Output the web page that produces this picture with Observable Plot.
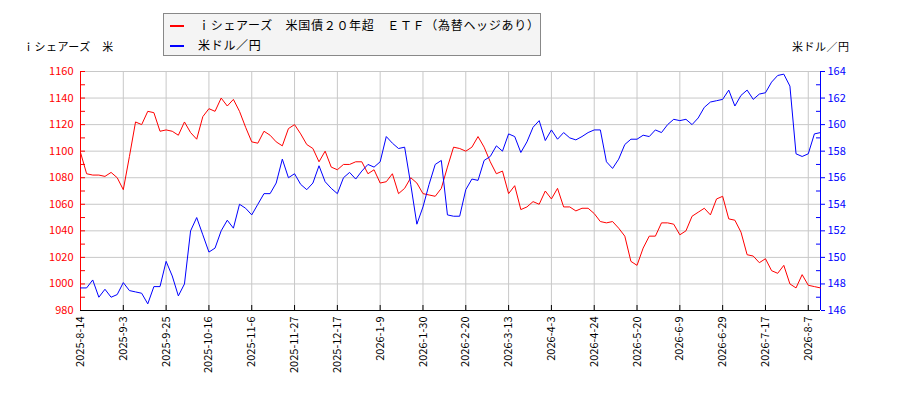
<!DOCTYPE html>
<html>
<head>
<meta charset="utf-8">
<script src="https://cdn.jsdelivr.net/npm/d3@7"></script>
<script src="https://cdn.jsdelivr.net/npm/@observablehq/plot@0.6"></script>
<style>
  body { margin: 0; background: #fff; font-family: "Noto Sans CJK JP", "Noto Sans", sans-serif; }
  #wrap { position: relative; width: 900px; height: 400px; }
  #chart { position: absolute; left: 0; top: 0; }
  .legend { position: absolute; left: 163px; top: 13px; width: 378px; height: 43px; background: #f4f4f4; border: 1px solid #888; box-sizing: border-box; font-size: 12px; color: #000; }
  .row { position: absolute; left: 6px; height: 16px; line-height: 16px; white-space: nowrap; letter-spacing: 0.7px; }
  .sw { display: inline-block; width: 14px; height: 2px; vertical-align: middle; margin-right: 14px; position: relative; top: -1px; }
  .ttl { position: absolute; font-size: 11px; color: #000; white-space: nowrap; letter-spacing: 0.5px; }
</style>
</head>
<body>
<div id="wrap">
  <div id="chart"></div>
  <div class="legend">
    <div class="row" style="top:3px"><span class="sw" style="background:red"></span>ｉシェアーズ　米国債２０年超　ＥＴＦ（為替ヘッジあり）</div>
    <div class="row" style="top:23px"><span class="sw" style="background:blue"></span>米ドル／円</div>
  </div>
  <div class="ttl" style="left:23px; top:38px">ｉシェアーズ　米</div>
  <div class="ttl" style="left:792px; top:38px">米ドル／円</div>
</div>
<script>
// tick labels (every 14 trading days)
const tickLabels = ["2025-8-14","2025-9-3","2025-9-25","2025-10-16","2025-11-6","2025-11-27","2025-12-17","2026-1-9","2026-1-30","2026-2-20","2026-3-13","2026-4-3","2026-4-24","2026-5-20","2026-6-9","2026-6-29","2026-7-17","2026-8-7"];
const tickStep = 14;      // trading days between labels
const sampleStep = 2;     // trading days between stored values

// iShares US Treasury 20yr+ ETF (hedged), every 2 trading days
const etfValues = [1099,1083,1082,1082,1081,1084,1080,1071,1096,1122,1120,1130,1129,1115,1116,1115,1112,1122,1114,1109,
1126,1132,1130,1140,1134,1139,1130,1118,1107,1106,1115,1112,1107,1104,1117,1120,1113,1105,1102,1092,
1100,1088,1086,1090,1090,1092,1092,1083,1086,1076,1077,1083,1068,1072,1080,1076,1068,1067,1066,1072,
1088,1103,1102,1100,1103,1111,1103,1092,1083,1085,1068,1074,1056,1058,1062,1060,1070,1064,1072,1058,
1058,1055,1057,1057,1053,1047,1046,1047,1042,1036,1017,1014,1027,1036,1036,1046,1046,1045,1037,1040,
1051,1054,1057,1052,1064,1066,1049,1048,1039,1022,1021,1016,1019,1010,1008,1014,1000,997,1007,999,998,997];

// USD/JPY, every 2 trading days
const usdValues = [147.7,147.7,148.3,147.0,147.6,147.0,147.2,148.1,147.5,147.4,147.3,146.5,147.8,147.8,149.7,148.6,147.1,148.0,152.0,153.0,
151.7,150.4,150.7,152.0,152.8,152.2,154.0,153.7,153.2,154.0,154.8,154.8,155.6,157.4,156.0,156.3,155.5,155.1,155.6,156.9,
155.7,155.2,154.8,156.0,156.4,155.9,156.5,157.0,156.8,157.2,159.1,158.6,158.2,158.3,155.5,152.5,153.8,155.5,157.0,157.3,
153.2,153.1,153.1,155.1,155.9,155.8,157.3,157.6,158.4,158.0,159.3,159.1,157.9,158.7,159.8,160.3,158.8,159.6,158.9,159.4,
159.0,158.85,159.1,159.4,159.6,159.6,157.2,156.7,157.4,158.5,158.9,158.9,159.2,159.1,159.6,159.4,160.0,160.4,160.3,160.4,
160.0,160.5,161.3,161.7,161.8,161.9,162.6,161.4,162.2,162.6,161.9,162.3,162.4,163.2,163.7,163.8,162.9,157.8,157.6,157.8,159.3,159.4];

const leftMajor = d3.range(980, 1161, 20);
const leftMinor = d3.range(990, 1160, 20);
const rightMin = 146, leftMin = 980, ratio = 10;   // 2 yen == 20 on left
const toLeft = v => leftMin + (v - rightMin) * ratio;
const toRight = v => String(Math.round((v - leftMin) / ratio + rightMin));

const etf = etfValues.map((v, i) => ({ t: i * sampleStep, v }));
const usd = usdValues.map((v, i) => ({ t: i * sampleStep, v: toLeft(v) }));
const tickIdx = tickLabels.map((_, i) => i * tickStep);
const lastT = (etfValues.length - 1) * sampleStep;

const font = "'Noto Sans CJK JP', 'Noto Sans', sans-serif";

const chart = Plot.plot({
  width: 900,
  height: 400,
  marginLeft: 80,
  marginRight: 80,
  marginTop: 71,
  marginBottom: 90,
  style: { fontFamily: font, fontSize: "10px", background: "white" },
  x: { domain: [0, lastT], axis: null },
  y: { domain: [980, 1160], axis: null },
  marks: [
    Plot.gridX(tickIdx, { stroke: "#c8c8c8", strokeOpacity: 1 }),
    Plot.gridY(leftMajor, { stroke: "#c8c8c8", strokeOpacity: 1 }),
    // left axis (red)
    Plot.axisY(leftMajor, { anchor: "left", tickSize: 0, tickPadding: 7, tickFormat: d => String(d), fill: "red", fontSize: 11, label: null }),
    Plot.axisY(leftMajor, { anchor: "left", tickSize: 5, dx: 5, fill: "none", stroke: "red", label: null }),
    Plot.axisY(leftMinor, { anchor: "left", tickSize: 5, dx: 5, fill: "none", stroke: "red", label: null }),
    // right axis (blue)
    Plot.axisY(leftMajor, { anchor: "right", tickSize: 4, tickPadding: 3, tickFormat: toRight, fill: "blue", stroke: "blue", fontSize: 11, label: null }),
    Plot.axisY(leftMinor, { anchor: "right", tickSize: 5, dx: -5, fill: "none", stroke: "blue", label: null }),
    // bottom axis
    Plot.axisX(tickIdx, { anchor: "bottom", tickSize: 5, dy: -5, fill: "none", stroke: "black", label: null }),
    Plot.axisX(tickIdx, { anchor: "bottom", tickSize: 0, tickPadding: 6, tickRotate: -90, tickFormat: t => tickLabels[t / tickStep], fill: "black", fontSize: 11, label: null }),
    Plot.ruleY([980], { stroke: "black" }),
    Plot.ruleX([0], { stroke: "red" }),
    Plot.ruleX([lastT], { stroke: "blue" }),
    Plot.line(etf, { x: "t", y: "v", stroke: "red", strokeWidth: 1 }),
    Plot.line(usd, { x: "t", y: "v", stroke: "blue", strokeWidth: 1 })
  ]
});
document.getElementById("chart").appendChild(chart);
</script>
</body>
</html>
